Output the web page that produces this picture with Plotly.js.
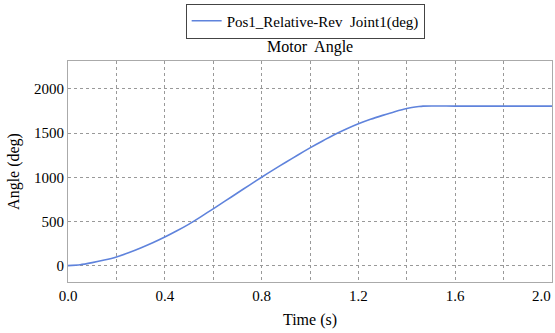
<!DOCTYPE html>
<html>
<head>
<meta charset="utf-8">
<script src="https://cdn.plot.ly/plotly-3.0.1.min.js"></script>
<style>html,body{margin:0;padding:0;background:#fff;}#chart{width:555px;height:333px;}</style>
</head>
<body>
<div id="chart"></div>
<script>
var seriesName = "Pos1_Relative-Rev  Joint1(deg)";
var chartTitle = "Motor  Angle";
var timeS = [0, 0.05, 0.1, 0.15, 0.2, 0.25, 0.3, 0.35, 0.4, 0.45, 0.5, 0.55, 0.6, 0.65, 0.7, 0.75, 0.8, 0.85, 0.9, 0.95, 1.0, 1.05, 1.1, 1.15, 1.2, 1.25, 1.3, 1.35, 1.4, 1.45, 1.467, 1.6, 1.8, 2.0];
var angleDeg = [0, 10, 34, 63, 98, 145, 199, 258, 323, 394, 470, 555, 643, 732, 822, 911, 1000, 1086, 1170, 1252, 1332, 1408, 1480, 1545, 1604, 1655, 1700, 1742, 1778, 1800, 1805, 1805, 1805, 1805];
var xTicks = [0, 0.4, 0.8, 1.2, 1.6, 2.0];
var xTickText = ["0.0", "0.4", "0.8", "1.2", "1.6", "2.0"];
var yTicks = [0, 500, 1000, 1500, 2000];

var serif = "Liberation Serif, Times New Roman, serif";
var lastIdx = xTicks.length - 1;
// last label drawn right-aligned to its tick so it stays inside the page
var axisTickText = xTickText.map(function (t, i) { return i === lastIdx ? "" : t; });

var trace = {
  x: timeS, y: angleDeg, type: "scatter", mode: "lines", name: seriesName,
  line: {color: "#5f83dc", width: 1.6, shape: "spline", smoothing: 0.6}
};
var layout = {
  width: 555, height: 333,
  margin: {l: 68, r: 3, t: 61, b: 51},
  paper_bgcolor: "#fff", plot_bgcolor: "#fff",
  font: {family: serif, size: 15, color: "#000"},
  showlegend: true,
  legend: {orientation: "h", x: 0.49, xanchor: "center", y: 1.26, yanchor: "top",
    bordercolor: "#444", borderwidth: 1, itemwidth: 30, tracegroupgap: 0,
    font: {family: serif, size: 15, color: "#000"}},
  annotations: [
    {text: chartTitle, xref: "paper", x: 0.5, xanchor: "center", yref: "paper", y: 1.065, yanchor: "middle",
      showarrow: false, font: {family: serif, size: 16, color: "#000"}},
    {text: xTickText[lastIdx], xref: "x", x: xTicks[lastIdx], xanchor: "right", yref: "paper", y: 0, yanchor: "middle",
      yshift: -14, showarrow: false, borderpad: 0, font: {family: serif, size: 15, color: "#000"}}
  ],
  xaxis: {range: [0, 2.0], tickvals: xTicks, ticktext: axisTickText, showgrid: false,
    zeroline: false, showline: true, linecolor: "#aaa", linewidth: 1, mirror: true, ticks: "",
    title: {text: "Time (s)", font: {family: serif, size: 16, color: "#000"}, standoff: 10},
    tickfont: {family: serif, size: 15, color: "#000"}},
  xaxis2: {range: [0, 2.0], dtick: 0.2, tick0: 0, showgrid: true, gridcolor: "#999", griddash: "dot", gridwidth: 1,
    overlaying: "x", showticklabels: false, zeroline: false, ticks: ""},
  yaxis: {range: [-185, 2315], tickvals: yTicks, showgrid: true, gridcolor: "#999", griddash: "dot", gridwidth: 1,
    zeroline: false, showline: true, linecolor: "#aaa", linewidth: 1, mirror: true, ticks: "",
    title: {text: "Angle (deg)", font: {family: serif, size: 16, color: "#000"}, standoff: 10},
    tickfont: {family: serif, size: 15, color: "#000"}}
};
var gridTrace = {x: [0, 2], y: [null, null], xaxis: "x2", yaxis: "y", showlegend: false, hoverinfo: "skip", mode: "lines"};
Plotly.newPlot("chart", [gridTrace, trace], layout, {staticPlot: true, displayModeBar: false});
</script>
</body>
</html>
